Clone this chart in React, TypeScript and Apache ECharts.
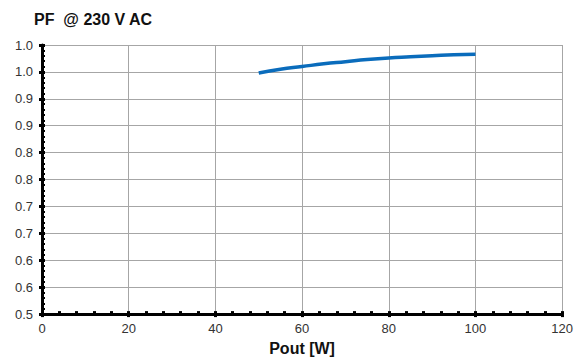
import React, { useEffect, useRef } from "react";
import * as echarts from "echarts";

const titleText = "PF  @ 230 V AC";
const xAxisName = "Pout [W]";
const poutW = [50, 55, 60, 65, 70, 75, 80, 85, 90, 95, 100];
const pfValues = [0.948, 0.955, 0.96, 0.965, 0.969, 0.973, 0.976, 0.978, 0.98, 0.982, 0.983];

const fmtY = (v: number) => {
  const r = Math.round(Math.round(v * 100) / 10 + 0.001) / 10;
  return r.toFixed(1);
};

export default function App() {
  const ref = useRef<HTMLDivElement>(null);
  useEffect(() => {
    if (!ref.current) return;
    const chart = echarts.init(ref.current, undefined, { renderer: "svg" });
    const labelStyle = { color: "#333", fontFamily: "Liberation Sans, Arial", fontSize: 13 };
    chart.setOption({
      animation: false,
      backgroundColor: "#fff",
      title: {
        text: titleText,
        left: 34,
        top: 11,
        padding: 0,
        textStyle: { fontFamily: "Liberation Sans, Arial", fontWeight: "bold", fontSize: 16, color: "#111" },
      },
      grid: { left: 42, right: 12, top: 45, bottom: 44, containLabel: false },
      xAxis: [
        {
          type: "value",
          min: 0,
          max: 120,
          interval: 20,
          position: "bottom",
          name: xAxisName,
          nameLocation: "middle",
          nameGap: 21,
          nameTextStyle: { fontFamily: "Liberation Sans, Arial", fontWeight: "bold", fontSize: 16, color: "#111", verticalAlign: "top" },
          axisLine: { show: true, lineStyle: { color: "#000", width: 3 } },
          axisTick: { show: true, inside: true, length: 3, lineStyle: { color: "#000", width: 3 } },
          minorTick: { show: true, splitNumber: 5, length: 3, lineStyle: { color: "#000", width: 3 } },
          axisLabel: { ...labelStyle, margin: 8 },
          splitLine: { show: true, lineStyle: { color: "#a6a6a6", width: 1 } },
        },
        {
          type: "value",
          min: 0,
          max: 120,
          interval: 20,
          position: "bottom",
          axisLine: { show: false },
          axisTick: { show: true, inside: false, length: 3, lineStyle: { color: "#000", width: 3 } },
          axisLabel: { show: false },
          splitLine: { show: false },
        },
      ],
      yAxis: [
        {
          type: "value",
          min: 0.5,
          max: 1.0,
          interval: 0.05,
          position: "left",
          axisLine: { show: true, lineStyle: { color: "#000", width: 3 } },
          axisTick: { show: true, inside: true, length: 3, lineStyle: { color: "#000", width: 3 } },
          minorTick: { show: true, splitNumber: 5, length: 3, lineStyle: { color: "#000", width: 2 } },
          axisLabel: { ...labelStyle, margin: 9, formatter: (v: number) => fmtY(v) },
          splitLine: { show: true, lineStyle: { color: "#a6a6a6", width: 1 } },
        },
        {
          type: "value",
          min: 0.5,
          max: 1.0,
          interval: 0.05,
          position: "left",
          axisLine: { show: false },
          axisTick: { show: true, inside: false, length: 3, lineStyle: { color: "#000", width: 3 } },
          axisLabel: { show: false },
          splitLine: { show: false },
        },
      ],
      series: [
        {
          type: "line",
          xAxisIndex: 0,
          yAxisIndex: 0,
          data: poutW.map((x, i) => [x, pfValues[i]]),
          smooth: true,
          showSymbol: false,
          lineStyle: { color: "#0a6cbc", width: 3.5 },
        },
      ],
    });
    return () => chart.dispose();
  }, []);
  return <div ref={ref} style={{ position: "fixed", left: 0, top: 0, width: 576, height: 361 }} />;
}
